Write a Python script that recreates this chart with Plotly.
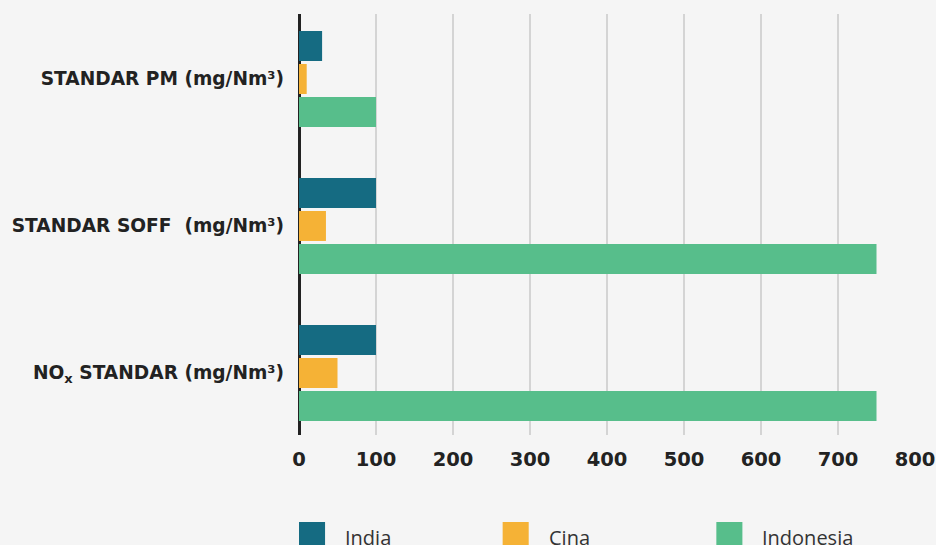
import plotly.graph_objects as go

# Emission standards for coal power plants (mg/Nm³)
categories = [
    "STANDAR PM (mg/Nm³)",
    "STANDAR SOFF  (mg/Nm³)",
    "NO<sub>x</sub> STANDAR (mg/Nm³)",
]
india = [30, 100, 100]
cina = [10, 35, 50]
indonesia = [100, 750, 750]

series_names = ["India", "Cina", "Indonesia"]
series_values = [india, cina, indonesia]
colors = ["#156b82", "#f5b236", "#57be8b"]

x_ticks = [0, 100, 200, 300, 400, 500, 600, 700, 800]

fig = go.Figure()
for name, vals, col in zip(series_names, series_values, colors):
    fig.add_trace(go.Bar(
        y=categories, x=vals, name=name, orientation="h",
        marker=dict(color=col, line=dict(width=0)),
        showlegend=False, hoverinfo="skip",
    ))

label_font = dict(family="DejaVu Sans", size=18.6, color="#222222", weight="bold")
tick_font = dict(family="DejaVu Sans", size=19.5, color="#222222", weight="bold")

fig.update_layout(
    width=936, height=545,
    margin=dict(l=299, r=21, t=14, b=110, autoexpand=False),
    paper_bgcolor="#f5f5f5", plot_bgcolor="#f5f5f5",
    barmode="group", bargap=0.327, bargroupgap=0.09,
    xaxis=dict(
        range=[0, 800], tickvals=x_ticks, ticktext=[str(v) for v in x_ticks],
        showgrid=True, gridcolor="#d4d4d4", gridwidth=2,
        zeroline=True, zerolinecolor="#222222", zerolinewidth=3,
        showline=False, tickfont=tick_font, ticks="", ticklabelstandoff=10,
        automargin=False,
    ),
    yaxis=dict(
        categoryorder="array", categoryarray=categories,
        range=[2.422, -0.442], showgrid=False, showline=False,
        zeroline=False, ticks="", tickfont=label_font, ticklabelstandoff=14,
        automargin=False,
    ),
)

# Legend drawn below the plot as large colour squares with labels
legend_x = [0.0, 0.3306, 0.6775]
sq_w = 0.0423
for name, col, lx in zip(series_names, colors, legend_x):
    fig.add_shape(type="rect", xref="paper", yref="paper",
                  x0=lx, x1=lx + sq_w, y0=-0.30, y1=-0.2067,
                  fillcolor=col, line=dict(width=0), layer="above")
    fig.add_annotation(xref="paper", yref="paper", x=lx + sq_w + 0.029, y=-0.2067,
                       xanchor="left", yanchor="top", showarrow=False,
                       text=name, font=dict(family="Open Sans", size=20, color="#333333"))

fig.write_html("out.html")
